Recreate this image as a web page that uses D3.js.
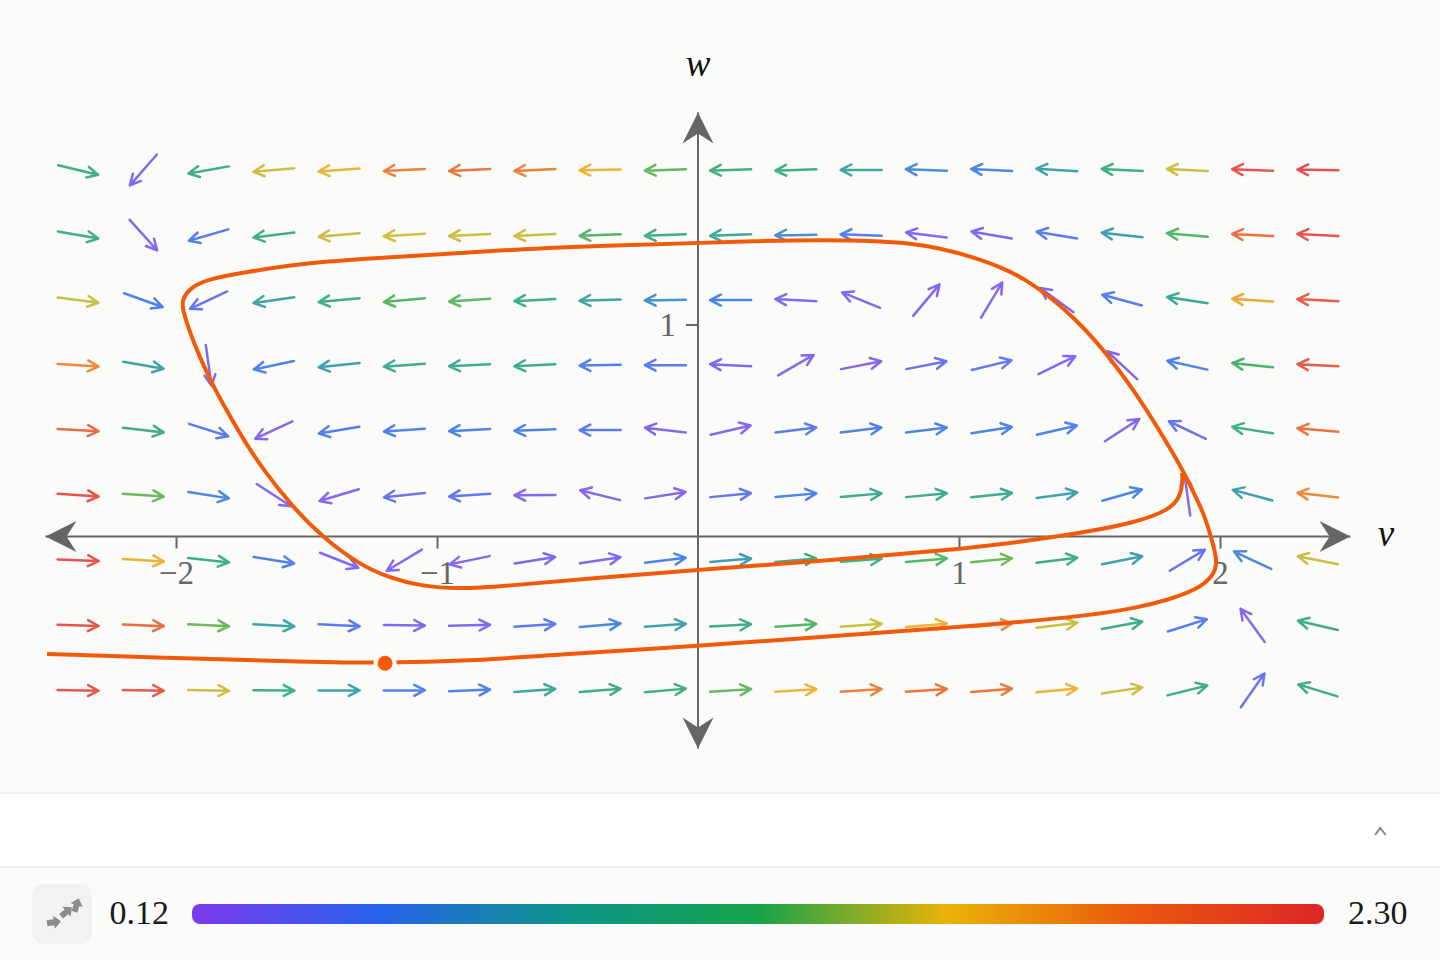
<!DOCTYPE html>
<html>
<head>
<meta charset="utf-8">
<script src="https://cdn.jsdelivr.net/npm/d3@7"></script>
<style>
  html, body { margin: 0; padding: 0; background: #fbfbf9; }
  svg { display: block; }
  text { font-family: "Liberation Serif", serif; }
</style>
</head>
<body>
<script>
// grid of the vector field
const vGrid = [-2.375, -2.125, -1.875, -1.625, -1.375, -1.125, -0.875, -0.625, -0.375, -0.125,
               0.125, 0.375, 0.625, 0.875, 1.125, 1.375, 1.625, 1.875, 2.125, 2.375];
const wGrid = [1.729, 1.422, 1.115, 0.808, 0.502, 0.195, -0.112, -0.419, -0.726];

// arrow direction in degrees (0 = right, 90 = up), one row per wGrid
const angleRows = [
  [-13.4, 229, 190, 185, 184, 183, 183, 183, 181, 182, 182, 182, 180, 178, 177, 176.5, 177, 177, 178, 179],
  [-10, -48, 196, 187, 185, 183.7, 183, 183, 182, 182, 182, 181, 178, 173, 170, 170.5, 173.5, 175, 177, 177],
  [-7.5, -19.7, 205, 188, 185.5, 185.5, 184, 183, 182, 181, 180, 177, 158, 50, 59, 144, 165, 171, 176, 177],
  [-3.7, -10, -82, 192, 186, 184, 183, 183, 181, 180, 177, 30, 11, 11, 13.7, 26, 137, 167.6, 174, 177],
  [-3, -6.5, -17.7, 205, 189.5, 184, 183, 182, 180, 173.5, 13, 7, 7, 7, 8.7, 13, 33, 154.5, 171, 175],
  [-3.7, -4, -9, -33, 196.7, 186, 184, 180.5, 166, 9, 5.5, 5, 5, 5.5, 6, 7.7, 16, 98, 165, 173.5],
  [-2.3, -3.6, -6, -9.2, -21.5, 211, 191.6, 9.2, 8.5, 7, 4.6, 5, 4.2, 5, 5.4, 7, 11.2, 31, 155, 168.5],
  [-1.8, -2.3, -2.8, -3, -2.8, -0.8, 1.5, 3.8, 5, 4.2, 3, 3.8, 4.2, 4.6, 5, 7, 10.5, 17.5, 126, 167],
  [-0.9, -0.9, -0.9, -0.5, 0, 0.5, 2.3, 4.2, 4.6, 5, 3.6, 3.6, 3.7, 3.7, 4.6, 5.2, 8.5, 14, 55, 163]
];

// speed at each arrow, estimated from its colour
const speedRows = [
  [1.05, 0.25, 1.0, 1.5, 1.65, 1.9, 1.95, 1.9, 1.65, 1.28, 1.1, 1.05, 0.85, 0.6, 0.55, 0.8, 1.05, 1.5, 2.25, 2.28],
  [1.05, 0.2, 0.45, 1.05, 1.5, 1.52, 1.5, 1.5, 1.25, 1.0, 0.85, 0.6, 0.45, 0.2, 0.22, 0.42, 0.75, 1.25, 2.0, 2.25],
  [1.5, 0.48, 0.35, 0.8, 1.05, 1.25, 1.27, 0.98, 0.82, 0.65, 0.5, 0.28, 0.22, 0.2, 0.2, 0.22, 0.45, 0.9, 1.7, 2.2],
  [1.85, 0.82, 0.2, 0.5, 0.75, 0.95, 0.95, 0.95, 0.5, 0.4, 0.22, 0.2, 0.2, 0.35, 0.38, 0.2, 0.2, 0.5, 1.2, 2.2],
  [2.05, 1.05, 0.42, 0.2, 0.45, 0.5, 0.5, 0.5, 0.42, 0.2, 0.2, 0.4, 0.5, 0.5, 0.5, 0.52, 0.2, 0.35, 1.05, 2.0],
  [2.25, 1.3, 0.55, 0.25, 0.2, 0.33, 0.37, 0.2, 0.2, 0.22, 0.37, 0.5, 0.9, 0.9, 0.9, 0.8, 0.55, 0.2, 0.75, 1.85],
  [2.25, 1.65, 1.0, 0.48, 0.25, 0.2, 0.2, 0.22, 0.23, 0.5, 0.75, 0.95, 1.05, 1.25, 1.3, 1.0, 0.75, 0.35, 0.55, 1.5],
  [2.25, 2.05, 1.3, 0.8, 0.42, 0.22, 0.22, 0.4, 0.55, 0.8, 1.05, 1.25, 1.5, 1.65, 1.85, 1.5, 1.0, 0.45, 0.2, 1.05],
  [2.25, 2.2, 1.5, 1.05, 0.8, 0.52, 0.52, 0.85, 1.0, 1.1, 1.28, 1.65, 1.9, 1.95, 1.95, 1.65, 1.5, 1.0, 0.35, 1.0]
];

// trajectory
const trajV = [-2.494, -1.897, -1.525, -1.199, -0.874, -0.567, 0, 0.467, 0.95, 1.464, 1.682, 1.797, 1.91, 1.975, 1.992, 1.966,
  1.937, 1.9, 1.862, 1.824, 1.753, 1.676, 1.602, 1.521, 1.441, 1.345, 1.257, 1.169, 1.054, 0.927, 0.801, 0.697, 0.479, 0.226, 0,
  -0.529, -0.912, -1.295, -1.536, -1.728, -1.875, -1.945, -1.978, -1.974, -1.946, -1.912, -1.866, -1.801, -1.736, -1.667,
  -1.563, -1.437, -1.295, -1.18, -1.065, -0.916, -0.732, -0.398, 0, 0.467, 0.966, 1.234, 1.49, 1.682, 1.805, 1.848, 1.858, 1.854];
const trajW = [-0.554, -0.578, -0.59, -0.598, -0.587, -0.559, -0.517, -0.474, -0.432, -0.38, -0.337, -0.3, -0.252, -0.186, -0.12, -0.002,
  0.111, 0.205, 0.3, 0.384, 0.531, 0.677, 0.804, 0.927, 1.031, 1.134, 1.21, 1.267, 1.318, 1.361, 1.384, 1.394, 1.399, 1.394, 1.384,
  1.366, 1.337, 1.309, 1.285, 1.248, 1.215, 1.175, 1.116, 1.068, 0.96, 0.856, 0.729, 0.583, 0.446, 0.318,
  0.153, -0.007, -0.134, -0.196, -0.233, -0.248, -0.233, -0.196, -0.158, -0.116, -0.064, -0.026, 0.021, 0.068, 0.125, 0.186, 0.267, 0.3];
const startPoint = [-1.199, -0.598];

const xTicks = [-2, -1, 1, 2];
const yTicks = [1];
const speedMin = 0.12;
const speedMax = 2.3;
const rampColors = ["#7c3aed", "#2563eb", "#0d9488", "#16a34a", "#eab308", "#ea580c", "#dc2626"];

const svg = d3.select("body").append("svg")
  .attr("width", 1440)
  .attr("height", 960);

const x = d3.scaleLinear().domain([-2.5, 2.5]).range([45.5, 1350.5]);
const y = d3.scaleLinear().domain([-1, 2]).range([748.5, 112.5]);
const rampPos = d3.scaleLinear().domain([0, rampColors.length - 1]).range([speedMin, speedMax]);
const color = d3.scaleLinear().domain(rampColors.map((c, i) => rampPos(i))).range(rampColors);

// Panels
svg.append("rect").attr("width", 1440).attr("height", 960).attr("fill", "#fbfbf9");
svg.append("rect").attr("y", 793).attr("width", 1440).attr("height", 74).attr("fill", "#ffffff");
svg.append("rect").attr("y", 792.5).attr("width", 1440).attr("height", 1.5).attr("fill", "#eeeeec");
svg.append("rect").attr("y", 866).attr("width", 1440).attr("height", 1.5).attr("fill", "#eeeeec");
svg.append("path").attr("d", "M1375,835L1380.3,828L1385.7,835")
  .attr("fill", "none").attr("stroke", "#888").attr("stroke-width", 2);

// Axes
const axisColor = "#666666";
const xAxis = svg.append("g").attr("transform", `translate(0,${y(0)})`)
  .call(d3.axisBottom(x).tickValues(xTicks).tickSize(12).tickPadding(12).tickFormat(d3.format("d")));
const yAxis = svg.append("g").attr("transform", `translate(${x(0)},0)`)
  .call(d3.axisLeft(y).tickValues(yTicks).tickSize(12).tickPadding(10).tickFormat(d3.format("d")));
[xAxis, yAxis].forEach(a => {
  a.select(".domain").remove();
  a.selectAll("line").attr("stroke", axisColor).attr("stroke-width", 2);
  a.selectAll("text").attr("fill", axisColor)
    .style("font-family", '"Liberation Serif", serif').style("font-size", "33px");
});

svg.append("line").attr("x1", x(-2.5)).attr("x2", x(2.5)).attr("y1", y(0)).attr("y2", y(0))
  .attr("stroke", axisColor).attr("stroke-width", 2);
svg.append("line").attr("x1", x(0)).attr("x2", x(0)).attr("y1", y(-1)).attr("y2", y(2))
  .attr("stroke", axisColor).attr("stroke-width", 2);

// axis arrow heads, drawn pointing right then rotated
const heads = [[x(2.5), y(0), 0], [x(-2.5), y(0), 180], [x(0), y(2), -90], [x(0), y(-1), 90]];
svg.selectAll("path.axis-head").data(heads).join("path")
  .attr("class", "axis-head")
  .attr("d", "M0,0L-31,-15.5L-21,0L-31,15.5Z")
  .attr("transform", d => `translate(${d[0]},${d[1]}) rotate(${d[2]})`)
  .attr("fill", axisColor);

svg.append("text").attr("x", x(0)).attr("y", 76).attr("text-anchor", "middle")
  .style("font-size", "37px").style("font-style", "italic").attr("fill", "#111").text("w");
svg.append("text").attr("x", 1386).attr("y", 546).attr("text-anchor", "middle")
  .style("font-size", "37px").style("font-style", "italic").attr("fill", "#111").text("v");

// Vector field
const arrows = [];
wGrid.forEach((w, r) => {
  vGrid.forEach((v, c) => {
    arrows.push({ v: v, w: w, angle: angleRows[r][c], speed: speedRows[r][c] });
  });
});

const arrowLen = 41;
const barbLen = 12;
const barbAngle = 27 * Math.PI / 180;

function arrowPath(d) {
  const a = d.angle * Math.PI / 180;
  const cx = x(d.v), cy = y(d.w);
  const dx = Math.cos(a), dy = -Math.sin(a);
  const tx = cx + dx * arrowLen / 2, ty = cy + dy * arrowLen / 2;
  const back = Math.atan2(-dy, -dx);
  const p = d3.path();
  p.moveTo(cx - dx * arrowLen / 2, cy - dy * arrowLen / 2);
  p.lineTo(tx, ty);
  p.moveTo(tx + Math.cos(back + barbAngle) * barbLen, ty + Math.sin(back + barbAngle) * barbLen);
  p.lineTo(tx, ty);
  p.lineTo(tx + Math.cos(back - barbAngle) * barbLen, ty + Math.sin(back - barbAngle) * barbLen);
  return p.toString();
}

svg.append("g").selectAll("path").data(arrows).join("path")
  .attr("d", arrowPath)
  .attr("fill", "none")
  .attr("stroke", d => color(d.speed))
  .attr("stroke-width", 2.5)
  .attr("stroke-linecap", "round")
  .attr("stroke-linejoin", "round")
  .attr("opacity", 0.8);

// Trajectory
const line = d3.line()
  .x(d => x(d[0]))
  .y(d => y(d[1]))
  .curve(d3.curveBasis);

svg.append("path")
  .attr("d", line(d3.zip(trajV, trajW)))
  .attr("fill", "none")
  .attr("stroke", "#f05a0a")
  .attr("stroke-width", 4)
  .attr("stroke-linejoin", "round");

svg.append("circle")
  .attr("cx", x(startPoint[0]))
  .attr("cy", y(startPoint[1]))
  .attr("r", 9.5)
  .attr("fill", "#fa5a00")
  .attr("stroke", "#fbfbf9")
  .attr("stroke-width", 4);

// Colour legend
const defs = svg.append("defs");
const grad = defs.append("linearGradient").attr("id", "speed-ramp");
grad.selectAll("stop").data(rampColors).join("stop")
  .attr("offset", (d, i) => i / (rampColors.length - 1))
  .attr("stop-color", d => d);

const legendX = d3.scaleLinear().domain([speedMin, speedMax]).range([192, 1324]);
svg.append("rect")
  .attr("x", legendX(speedMin)).attr("y", 904)
  .attr("width", legendX(speedMax) - legendX(speedMin)).attr("height", 20)
  .attr("rx", 8).attr("fill", "url(#speed-ramp)");

svg.append("text").attr("x", 169).attr("y", 924).attr("text-anchor", "end")
  .style("font-size", "34px").attr("fill", "#1a1a1a").text(speedMin.toFixed(2));
svg.append("text").attr("x", 1348).attr("y", 924)
  .style("font-size", "34px").attr("fill", "#1a1a1a").text(speedMax.toFixed(2));

// Toggle icon
svg.append("rect").attr("x", 32).attr("y", 884).attr("width", 60).attr("height", 60)
  .attr("rx", 11).attr("fill", "#f2f2f1");
const iconArrows = [[47, 922.5, -8], [60, 913, -40], [71, 907, -72]];
iconArrows.forEach(a => {
  svg.append("path")
    .attr("d", "M-5,-3L2,-3L2,-6.5L9,0L2,6.5L2,3L-5,3Z")
    .attr("transform", `translate(${a[0] + 5},${a[1]}) rotate(${a[2]})`)
    .attr("fill", "#8c8c8c");
});
</script>
</body>
</html>
